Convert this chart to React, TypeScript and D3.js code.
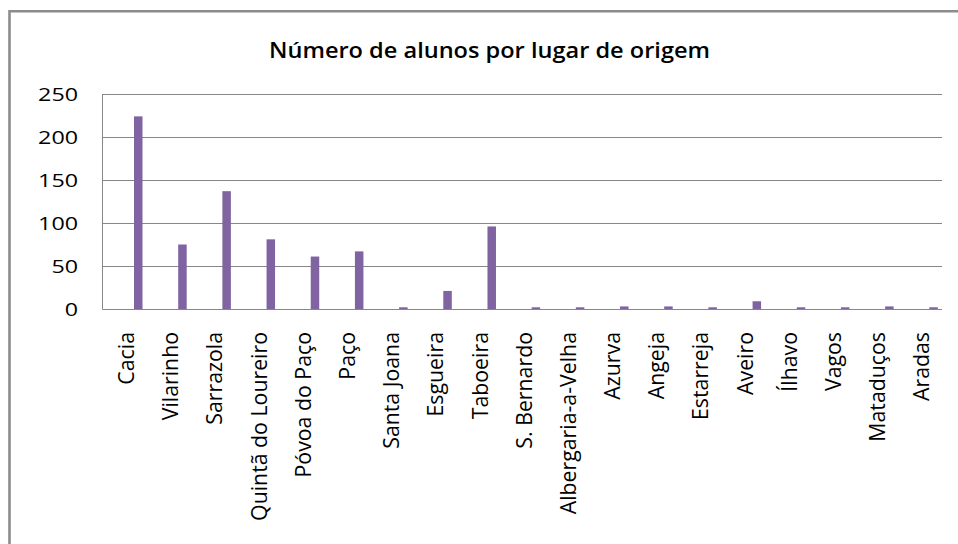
import * as d3 from "d3";

const TITLE = "Número de alunos por lugar de origem";

const places = [
  "Cacia", "Vilarinho", "Sarrazola", "Quintã do Loureiro", "Póvoa do Paço",
  "Paço", "Santa Joana", "Esgueira", "Taboeira", "S. Bernardo",
  "Albergaria-a-Velha", "Azurva", "Angeja", "Estarreja", "Aveiro",
  "Ílhavo", "Vagos", "Mataduços", "Aradas",
];
const alunos = [224, 75, 137, 81, 61, 67, 2, 21, 96, 2, 2, 3, 3, 2, 9, 2, 2, 3, 2];
const yTicks = [0, 50, 100, 150, 200, 250];

const W = 958;
const H = 544;
const plot = { left: 102.5, right: 942, top: 94, bottom: 309 };
const FONT = "'Open Sans', Calibri, sans-serif";

export default function App() {
  const x = d3.scaleBand<string>().domain(places).range([plot.left, plot.right]);
  const y = d3.scaleLinear().domain([0, 250]).range([plot.bottom, plot.top]);
  const bw = x.bandwidth();
  const barW = 8.5;
  // bar sits to the right of the category centre, like the original sheet chart
  const barShift = bw * 0.713;

  return (
    <svg
      width={W}
      height={H}
      style={{ position: "absolute", left: 0, top: 0, background: "#fff" }}
    >
      {/* outer chart frame, runs off the right and bottom */}
      <path d={`M9.5,${H + 5} V11.3 H${W + 5}`} fill="none" stroke="#8c8c8c" strokeWidth={2.6} />

      <text
        x={489.5}
        y={58}
        textAnchor="middle"
        fontFamily={FONT}
        fontWeight={600}
        fontSize={21}
        textLength={441}
        lengthAdjust="spacingAndGlyphs"
        fill="#000"
      >
        {TITLE}
      </text>

      {/* gridlines */}
      {yTicks.map((t) => (
        <line
          key={t}
          x1={plot.left}
          x2={plot.right}
          y1={Math.round(y(t)) + 0.5}
          y2={Math.round(y(t)) + 0.5}
          stroke="#878787"
          strokeWidth={1}
        />
      ))}
      <line x1={plot.left} x2={plot.left} y1={plot.top} y2={plot.bottom + 0.5} stroke="#878787" />

      {/* y tick labels */}
      {yTicks.map((t) => (
        <text
          key={t}
          x={78}
          y={y(t)}
          dy="0.36em"
          textAnchor="end"
          fontFamily={FONT}
          fontSize={19}
          fill="#000"
          textLength={String(t).length * 13.3}
          lengthAdjust="spacingAndGlyphs"
        >
          {t}
        </text>
      ))}

      {/* bars */}
      {places.map((p, i) => (
        <rect
          key={p}
          x={(x(p) ?? 0) + barShift}
          y={y(alunos[i])}
          width={barW}
          height={plot.bottom - y(alunos[i])}
          fill="#8064a2"
        />
      ))}

      {/* category labels */}
      {places.map((p) => {
        const cx = (x(p) ?? 0) + bw / 2 + 2;
        return (
          <text
            key={p}
            transform={`translate(${cx},332) rotate(-90)`}
            textAnchor="end"
            dy="0.35em"
            fontFamily={FONT}
            fontSize={21.3}
            fill="#000"
          >
            {p}
          </text>
        );
      })}
    </svg>
  );
}
